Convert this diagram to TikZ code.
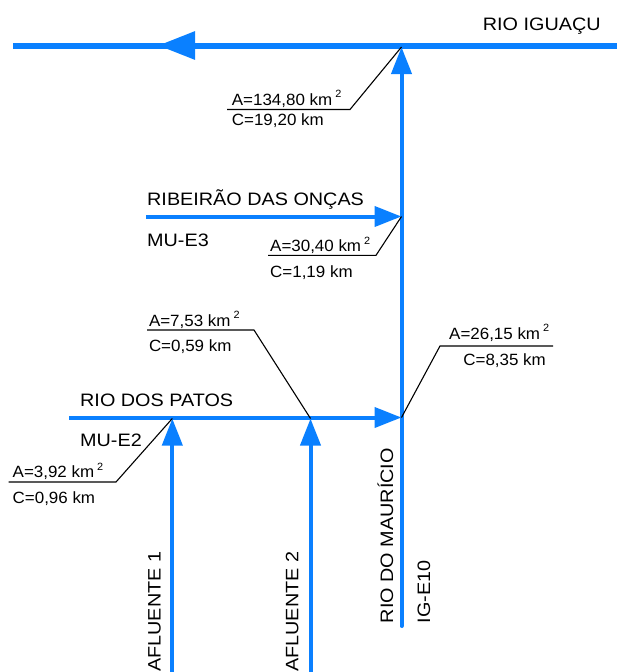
\documentclass[tikz,border=0pt]{standalone}
\usepackage{fontspec}
\setmainfont{Liberation Sans}[FakeStretch=1.1]
\newfontfamily\lblfont{Liberation Sans}[FakeStretch=1.04]
\usetikzlibrary{arrows.meta}
\definecolor{river}{RGB}{10,128,255}
\newcommand{\kmsq}{km\hspace{3pt}\raisebox{7.5pt}{\fontsize{10.5}{10.5}\selectfont 2}}
\tikzset{
  mainriver/.style={draw=river,line width=6pt},
  riv/.style={draw=river,line width=4pt},
  bigtip/.style={-{Triangle[length=37pt,width=27pt]}},
  tip/.style={-{Triangle[length=27pt,width=20pt]}},
  lead/.style={draw=black,line width=1.1pt},
  bigtxt/.style={inner sep=0pt,font=\fontsize{18}{21}\selectfont},
  lbl/.style={inner sep=0pt,font=\lblfont\fontsize{16.3}{19}\selectfont},
}
\begin{document}
\begin{tikzpicture}[x=1pt,y=-1pt]
\useasboundingbox (0,0) rectangle (616,672);
% river coordinates
\coordinate (igE) at (622,45.5);
\coordinate (igW) at (13,45.5);
\coordinate (igA1) at (196,45.5);
\coordinate (igA2) at (158,45.5);
\coordinate (mouth) at (401.5,47);
\coordinate (mauS) at (401.5,626);
\coordinate (onJ) at (401.5,216.5);
\coordinate (onW) at (146,216.5);
\coordinate (paJ) at (401.5,417.5);
\coordinate (paW) at (69,417.5);
\coordinate (aoneJ) at (172.3,418.5);
\coordinate (aoneS) at (172.3,690);
\coordinate (atwoJ) at (310.5,418.5);
\coordinate (atwoS) at (310.5,690);
% rivers
\draw[mainriver] (igE) -- (igW);
\draw[mainriver,bigtip] (igA1) -- (igA2);
\draw[riv,tip,line cap=round] (mauS) -- (mouth);
\draw[riv,tip] (onW) -- (onJ);
\draw[riv,tip] (paW) -- (paJ);
\draw[riv,tip] (aoneS) -- (aoneJ);
\draw[riv,tip] (atwoS) -- (atwoJ);
% river names
\node[bigtxt,anchor=base west] (tig) at (482.7,30) {RIO IGUAÇU};
\node[bigtxt,anchor=base west] (ton) at (147,205) {RIBEIRÃO DAS ONÇAS};
\node[bigtxt,anchor=base west] (tmue3) at (147,246) {MU-E3};
\node[bigtxt,anchor=base west] (tpa) at (80,406) {RIO DOS PATOS};
\node[bigtxt,anchor=base west] (tmue2) at (80,446) {MU-E2};
\node[bigtxt,anchor=base east,rotate=90] (taf1) at (160.7,551.5) {AFLUENTE 1};
\node[bigtxt,anchor=base east,rotate=90] (taf2) at (298.3,551.5) {AFLUENTE 2};
\node[bigtxt,anchor=base west,rotate=90] (tmau) at (393,623.3) {RIO DO MAURÍCIO};
\node[bigtxt,anchor=base west,rotate=90] (tige) at (430,623.3) {IG-E10};
% label: mouth of Maurício
\node[lbl,anchor=base west] (a1) at (231.7,105) {A=134,80 \kmsq};
\node[lbl,anchor=base west] (c1) at (231.7,125) {C=19,20 km};
\coordinate (u1a) at (227,109.5);
\coordinate (u1b) at (350,109.5);
\draw[lead] (u1a) -- (u1b) -- (mouth);
% label: Ribeirão das Onças
\node[lbl,anchor=base west] (a2) at (270,251.5) {A=30,40 \kmsq};
\node[lbl,anchor=base west] (c2) at (270,277) {C=1,19 km};
\coordinate (u2a) at (268,255.3);
\coordinate (u2b) at (376,255.3);
\draw[lead] (u2a) -- (u2b) -- (onJ);
% label: Afluente 2
\node[lbl,anchor=base west] (a3) at (148.8,326) {A=7,53 \kmsq};
\node[lbl,anchor=base west] (c3) at (148.8,351.7) {C=0,59 km};
\coordinate (u3a) at (147,330);
\coordinate (u3b) at (254,330);
\draw[lead] (u3a) -- (u3b) -- (atwoJ);
% label: Rio dos Patos mouth
\node[lbl,anchor=base west] (a4) at (449,339.3) {A=26,15 \kmsq};
\node[lbl,anchor=base east] (c4) at (546,365.7) {C=8,35 km};
\coordinate (u4a) at (440,346);
\coordinate (u4b) at (553,346);
\draw[lead] (u4b) -- (u4a) -- (paJ);
% label: Afluente 1
\node[lbl,anchor=base west] (a5) at (12.5,477.7) {A=3,92 \kmsq};
\node[lbl,anchor=base west] (c5) at (12.5,503) {C=0,96 km};
\coordinate (u5a) at (8.7,482);
\coordinate (u5b) at (116,482);
\draw[lead] (u5a) -- (u5b) -- (aoneJ);
\end{tikzpicture}
\end{document}
